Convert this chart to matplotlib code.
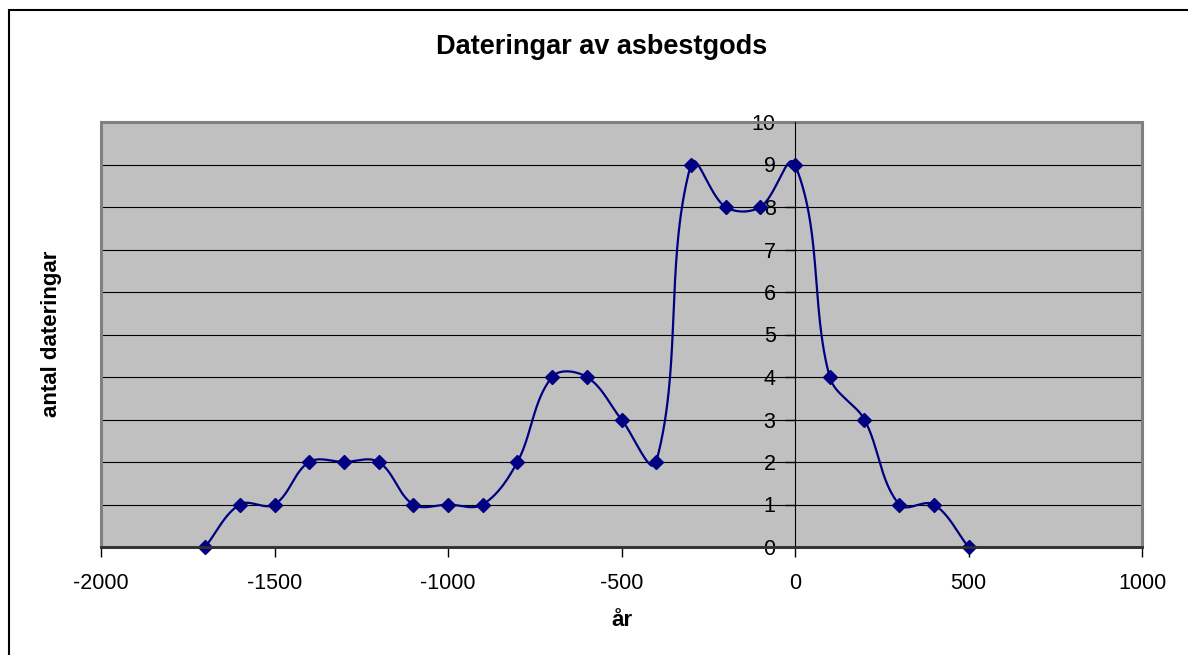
import numpy as np
import matplotlib
matplotlib.use("Agg")
import matplotlib.pyplot as plt
from matplotlib.patches import Rectangle

# ---- data ----
years = [-1700, -1600, -1500, -1400, -1300, -1200, -1100, -1000, -900, -800, -700,
         -600, -500, -400, -300, -200, -100, 0, 100, 200, 300, 400, 500]
counts = [0, 1, 1, 2, 2, 2, 1, 1, 1, 2, 4, 4, 3, 2, 9, 8, 8, 9, 4, 3, 1, 1, 0]
x_ticks = [-2000, -1500, -1000, -500, 0, 500, 1000]
y_ticks = list(range(0, 11))
title = "Dateringar av asbestgods"
xlabel = "år"
ylabel = "antal dateringar"

W, H = 1188, 655
plt.rcParams['font.family'] = ['Liberation Sans', 'DejaVu Sans']
plt.rcParams['axes.unicode_minus'] = False

fig = plt.figure(figsize=(W / 100, H / 100), dpi=100)
ax = fig.add_axes([101 / W, 1 - 547 / H, (1142 - 101) / W, (547 - 122) / H])
ax.set_facecolor('#C0C0C0')
ax.set_xlim(-2000, 1000)
ax.set_ylim(0, 10)


def _unit(v):
    n = np.hypot(*v)
    return v / n if n > 0 else v * 0


def excel_smooth(P, n=60, k=1.0 / 3.0):
    """Excel-style smoothed line: cubic Bezier segments; tangent direction
    follows the neighbour chord, length a fraction of the on-screen segment."""
    P = np.asarray(P, float)
    out = [P[0]]
    t = np.linspace(0, 1, n)[1:]
    for i in range(len(P) - 1):
        p0 = P[i - 1] if i > 0 else P[i]
        p1 = P[i]
        p2 = P[i + 1]
        p3 = P[i + 2] if i + 2 < len(P) else P[i + 1]
        d12 = np.hypot(*(p2 - p1))
        c1 = p1 + _unit(p2 - p0) * d12 * k
        c2 = p2 - _unit(p3 - p1) * d12 * k
        seg = ((1 - t) ** 3)[:, None] * p1 + (3 * (1 - t) ** 2 * t)[:, None] * c1 \
            + (3 * (1 - t) * t ** 2)[:, None] * c2 + (t ** 3)[:, None] * p2
        out.extend(seg)
    return np.array(out)


# smoothing is done in screen space, as the spreadsheet does
pts_disp = ax.transData.transform(np.column_stack([years, counts]))
curve = ax.transData.inverted().transform(excel_smooth(pts_disp))

# gridlines
for y in y_ticks[1:-1]:
    ax.axhline(y, color='black', lw=0.8, zorder=1)

ax.plot(curve[:, 0], curve[:, 1], color='#000080', lw=1.6, zorder=3,
        solid_capstyle='round')
ax.plot(years, counts, linestyle='none', marker='D', markersize=7.5,
        markerfacecolor='#000080', markeredgecolor='#000080', mew=1,
        zorder=4, clip_on=False)

# spines
for s in ['top', 'right']:
    ax.spines[s].set_visible(False)
ax.spines['left'].set_position(('data', 0))
ax.spines['left'].set_color('black')
ax.spines['left'].set_linewidth(0.8)
ax.spines['left'].set_zorder(2)
ax.spines['bottom'].set_color('#303030')
ax.spines['bottom'].set_linewidth(2.0)
ax.spines['bottom'].set_zorder(5)

# plot-area border
ax.add_patch(Rectangle((0, 0), 1, 1, transform=ax.transAxes, fill=False,
                       ec='#808080', lw=2.2, zorder=2, clip_on=False))

ax.set_xticks(x_ticks)
ax.set_yticks(y_ticks)
ax.tick_params(axis='x', direction='out', length=7, width=1, color='black',
               labelsize=15.5, pad=12)
ax.tick_params(axis='y', direction='out', length=7, width=1, color='black',
               labelsize=15.5, pad=7)

fig.text(601.5 / W, 1 - 47 / H, title, ha='center', va='center',
         fontsize=19.5, fontweight='bold')
fig.text(621.5 / W, 1 - 620 / H, xlabel, ha='center', va='center',
         fontsize=16, fontweight='bold')
fig.text(52 / W, 1 - 334 / H, ylabel, ha='center', va='center',
         fontsize=16, fontweight='bold', rotation=90)

# outer chart border (only left and top visible in the image)
fig.add_artist(Rectangle((8.5 / W, -0.2), 2, 1.2 - 9.5 / H,
                         transform=fig.transFigure, fill=False,
                         ec='black', lw=1.5))

fig.savefig('out.png', dpi=100, facecolor='white')
